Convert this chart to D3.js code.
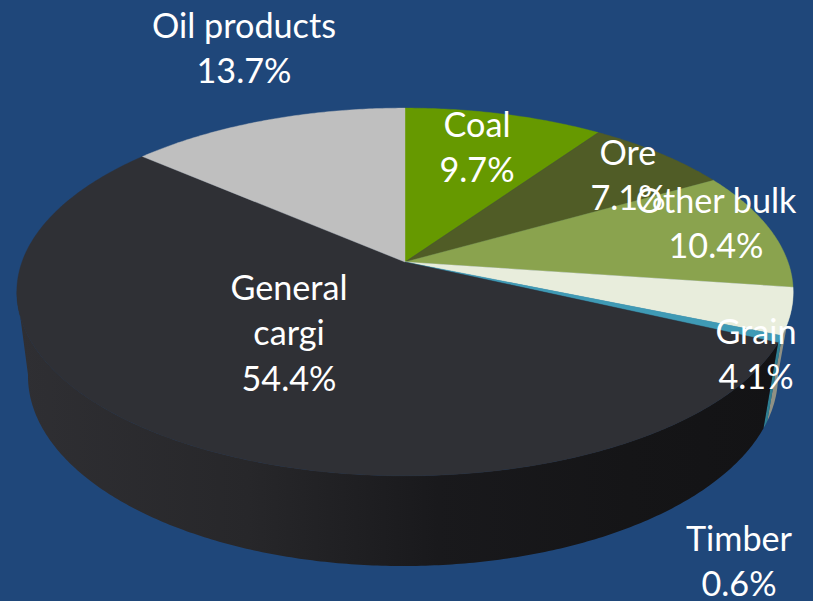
<!DOCTYPE html>
<html>
<head>
<meta charset="utf-8">
<script src="https://cdnjs.cloudflare.com/ajax/libs/d3/7.8.5/d3.min.js"></script>
<style>
  html, body { margin: 0; padding: 0; background: #1f477a; overflow: hidden; }
  svg { display: block; }
  text { font-family: Lato, "Open Sans", sans-serif; fill: #fff; text-anchor: middle; }
</style>
</head>
<body>
<svg id="chart" width="813" height="601"></svg>
<script>
// Cargo structure, percent of the total
const categories = ["Coal", "Ore", "Other bulk", "Grain", "Timber", "General cargi", "Oil products"];
const shares = [9.7, 7.1, 10.4, 4.1, 0.6, 54.4, 13.7];
const valueLabels = ["9.7%", "7.1%", "10.4%", "4.1%", "0.6%", "54.4%", "13.7%"];

// Slice fills for the top face and the rim
const topColors = ["#669900", "#505c26", "#8aa34e", "#e8eddc", "#3f9ab5", "#2f3035", "#bfbfbf"];
const wallColors = ["#4d7300", "#3c451d", "#68793a", "#8f9184", "#2e7f91", "url(#wallShade)", "#8f8f8f"];

// Label placement: centre x, and first baseline y
const labelAnchors = [[477, 136.5], [628, 164.5], [716, 212.5], [756, 343.5], [739, 550.5], [289, 299.5], [244, 37.5]];
const labelLines = [["Coal"], ["Ore"], ["Other bulk"], ["Grain"], ["Timber"], ["General", "cargi"], ["Oil products"]];
const lineGap = 45.5;
const fontSize = 34.2;

// Perspective disc: apex on screen, half axes, and foreshortening
const apex = { x: 405, y: 262 };
const halfWidth = 383, halfDepth = 179, tilt = 0.163;
const rimWidth = 370, rimDepth = 185, rimApexX = 403, rimApexY = 345;

// Angles between which the side of the disc faces the viewer
const frontStart = 99 * Math.PI / 180, frontEnd = 261 * Math.PI / 180;

function topPoint(a) {
  const X = Math.sin(a), Y = -Math.cos(a), w = 1 - tilt * Y;
  return [apex.x + halfWidth * X / w, apex.y + halfDepth * Y / w];
}
function rimPoint(a) {
  const X = Math.sin(a), Y = -Math.cos(a), w = 1 - tilt * Y;
  return [rimApexX + rimWidth * X / w, rimApexY + rimDepth * Y / w];
}
function arcAngles(a0, a1) {
  const n = Math.max(2, Math.ceil((a1 - a0) / 0.01));
  return d3.range(n + 1).map(i => a0 + (a1 - a0) * i / n);
}

const svg = d3.select("#chart");
const line = d3.line();

const defs = svg.append("defs");
const shade = defs.append("linearGradient")
  .attr("id", "wallShade")
  .attr("gradientUnits", "userSpaceOnUse")
  .attr("x1", 20).attr("x2", 780).attr("y1", 0).attr("y2", 0);
[[0, "#2f2f33"], [0.3, "#27272a"], [0.55, "#19191c"], [0.8, "#151517"], [1, "#131315"]]
  .forEach(([o, c]) => shade.append("stop").attr("offset", o).attr("stop-color", c));

const arcs = d3.pie().sort(null).value(d => d)(shares);

// Side walls of the slices that face the viewer
const walls = arcs.map((d, i) => ({
  i,
  from: Math.max(d.startAngle, frontStart),
  to: Math.min(d.endAngle, frontEnd)
})).filter(w => w.to > w.from);
svg.append("g").selectAll("path")
  .data(walls)
  .join("path")
  .attr("d", w => {
    const angles = arcAngles(w.from, w.to);
    return line(angles.map(topPoint).concat(angles.slice().reverse().map(rimPoint))) + "Z";
  })
  .attr("fill", w => wallColors[w.i]);

// Top face
svg.append("g").selectAll("path")
  .data(arcs)
  .join("path")
  .attr("d", d => line([[apex.x, apex.y]].concat(arcAngles(d.startAngle, d.endAngle).map(topPoint))) + "Z")
  .attr("fill", (d, i) => topColors[i])
  .attr("stroke", (d, i) => topColors[i])
  .attr("stroke-width", 0.4);

// Category name and share
const labels = svg.append("g").selectAll("text")
  .data(categories)
  .join("text")
  .attr("font-size", fontSize)
  .attr("transform", (d, i) => `translate(${labelAnchors[i][0]},${labelAnchors[i][1]})`);
labels.selectAll("tspan")
  .data((d, i) => labelLines[i].concat(valueLabels[i]))
  .join("tspan")
  .attr("x", 0)
  .attr("y", (d, i) => i * lineGap)
  .text(d => d);
</script>
</body>
</html>
